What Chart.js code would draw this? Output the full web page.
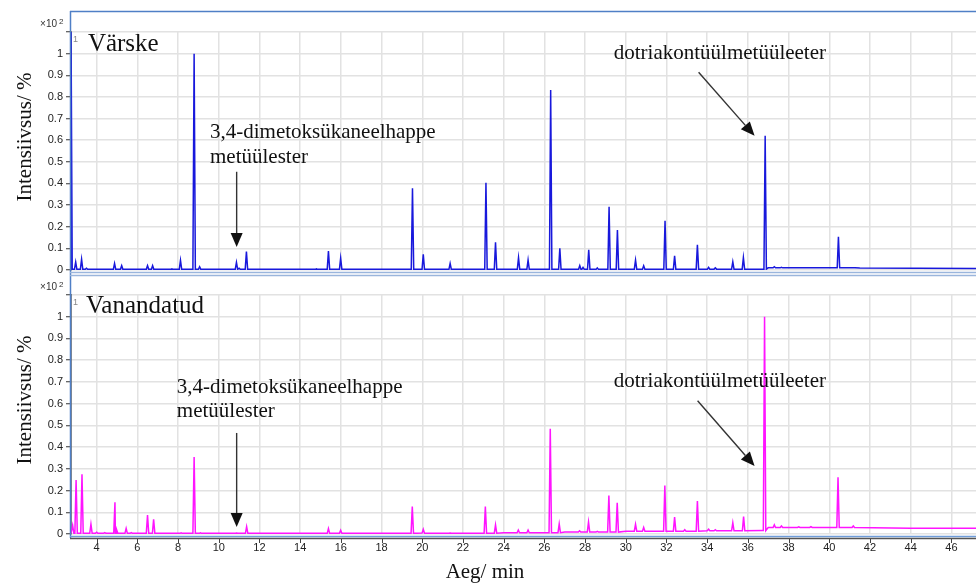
<!DOCTYPE html>
<html>
<head>
<meta charset="utf-8">
<script src="https://cdn.jsdelivr.net/npm/chart.js@4.4.1/dist/chart.umd.min.js"></script>
<style>
  html, body { margin: 0; padding: 0; background: #fff; }
  #wrap { position: relative; width: 976px; height: 584px; overflow: hidden; }
  #wrap canvas { position: absolute; left: 0; }
</style>
</head>
<body>
<div id="wrap">
  <canvas id="fresh" width="976" height="280" style="top:0"></canvas>
  <canvas id="aged" width="976" height="304" style="top:280px"></canvas>
</div>
<script>
// retention time window (min) and intensity axis (x10^2 %)
const xMin = 2.74, xMax = 47.21;
const yMax = 1.1;

// Värske
const freshPeakTimes   = [2.74, 2.97, 3.26, 3.50, 4.88, 5.23, 6.50, 6.75, 7.70, 8.12,
                          8.79, 9.06, 10.87, 11.00, 11.36, 14.80, 15.39, 15.99, 19.52, 20.05,
                          21.37, 23.13, 23.60, 24.73, 25.20, 26.31, 26.76, 27.74, 27.90, 28.18,
                          28.60, 29.18, 29.59, 30.48, 30.88, 31.93, 32.40, 33.52, 34.07, 34.40,
                          35.26, 35.78, 36.85, 37.30, 37.65, 38.50, 40.45, 41.20];
const freshPeakHeights = [1.15, 0.037, 0.05, 0.008, 0.03, 0.02, 0.02, 0.02, 0.005, 0.045,
                          1.0, 0.015, 0.035, 0.008, 0.085, 0.005, 0.088, 0.055, 0.378, 0.073,
                          0.03, 0.403, 0.128, 0.057, 0.046, 0.832, 0.10, 0.02, 0.012, 0.093,
                          0.01, 0.292, 0.185, 0.046, 0.02, 0.227, 0.066, 0.116, 0.012, 0.01,
                          0.038, 0.057, 0.62, 0.015, 0.012, 0.01, 0.153, 0.01];
const freshBaseTimes   = [2.74, 30, 36.7, 37.0, 41.5, 47.3];
const freshBaseLevels  = [0.003, 0.004, 0.004, 0.01, 0.009, 0.007];

// Vanandatud
const agedPeakTimes    = [2.82, 2.99, 3.28, 3.72, 4.00, 4.40, 4.90, 4.98, 5.45, 5.70,
                          6.50, 6.80, 8.15, 8.79, 9.10, 10.88, 11.37, 15.39, 15.99, 19.51,
                          20.05, 21.37, 23.10, 23.60, 24.72, 25.20, 26.29, 26.73, 27.73, 28.17,
                          28.60, 29.17, 29.58, 30.48, 30.88, 31.92, 32.40, 32.90, 33.52, 34.07,
                          34.40, 35.26, 35.79, 36.82, 37.30, 37.65, 38.50, 39.10, 40.43, 41.18];
const agedPeakHeights  = [0.04, 0.249, 0.275, 0.045, 0.008, 0.006, 0.146, 0.02, 0.026, 0.006,
                          0.087, 0.068, 0.005, 0.354, 0.005, 0.004, 0.034, 0.025, 0.017, 0.126,
                          0.022, 0.005, 0.126, 0.042, 0.018, 0.018, 0.484, 0.046, 0.015, 0.055,
                          0.012, 0.177, 0.144, 0.045, 0.03, 0.223, 0.078, 0.02, 0.152, 0.022,
                          0.02, 0.052, 0.08, 1.0, 0.042, 0.037, 0.033, 0.034, 0.261, 0.037];
const agedBaseTimes    = [2.74, 12, 20, 24, 27, 30, 34, 36.7, 37.0, 40, 44, 47.3];
const agedBaseLevels   = [0.003, 0.003, 0.004, 0.006, 0.009, 0.013, 0.015, 0.016, 0.03, 0.03, 0.027, 0.026];

const SERIF = '"Liberation Serif", "Times New Roman", serif';
const SANS = '"Liberation Sans", Arial, sans-serif';
const FRAME_BLUE = '#4f7fc6';

// each peak becomes a narrow spike sitting on the baseline knot before it
function buildTrace(peakT, peakH, baseT, baseL) {
  const hw = 0.06;
  const pts = baseT.map((t, i) => ({ x: t, y: baseL[i] }));
  peakT.forEach((t, i) => {
    let b = baseL[0];
    baseT.forEach((bt, j) => { if (bt <= t) b = baseL[j]; });
    pts.push({ x: t - hw, y: b }, { x: t, y: peakH[i] }, { x: t + hw, y: b });
  });
  return pts.sort((a, b) => a.x - b.x);
}

function line(ctx, x0, y0, x1, y1, color, w) {
  ctx.strokeStyle = color;
  ctx.lineWidth = w;
  ctx.beginPath();
  ctx.moveTo(x0, y0);
  ctx.lineTo(x1, y1);
  ctx.stroke();
}

function arrow(ctx, x0, y0, x1, y1) {
  const ang = Math.atan2(y1 - y0, x1 - x0);
  const len = 14, half = 6;
  const c = Math.cos(ang), s = Math.sin(ang);
  line(ctx, x0, y0, x1 - c * len, y1 - s * len, '#333', 1.4);
  ctx.fillStyle = '#111';
  ctx.beginPath();
  ctx.moveTo(x1, y1);
  ctx.lineTo(x1 - c * len - s * half, y1 - s * len + c * half);
  ctx.lineTo(x1 - c * len + s * half, y1 - s * len - c * half);
  ctx.closePath();
  ctx.fill();
}

// frame, titles and labelled arrows of one panel
function panelDecor(p) {
  return {
    id: 'panelDecor',
    afterDraw(chart) {
      const { ctx, chartArea: a, scales: { x, y } } = chart;
      const px = t => x.getPixelForValue(t);
      const py = v => y.getPixelForValue(v);
      ctx.save();
      p.frame(ctx, a, x);

      ctx.fillStyle = '#333';
      ctx.font = '10px ' + SANS;
      ctx.textAlign = 'right';
      ctx.textBaseline = 'alphabetic';
      ctx.fillText('\u00d710', 57, a.top - 5);
      ctx.font = '8px ' + SANS;
      ctx.textAlign = 'left';
      ctx.fillText('2', 59, a.top - 8);
      ctx.fillStyle = '#888';
      ctx.font = '9px ' + SANS;
      ctx.fillText('1', a.left + 2, a.top + 10);

      ctx.fillStyle = '#111';
      ctx.font = '21px ' + SERIF;
      ctx.save();
      ctx.translate(31, a.top + 105);
      ctx.rotate(-Math.PI / 2);
      ctx.textAlign = 'center';
      ctx.fillText('Intensiivsus/ %', 0, 0);
      ctx.restore();

      ctx.font = '25px ' + SERIF;
      ctx.fillText(p.name, px(p.nameAt[0]), py(p.nameAt[1]));

      ctx.font = '21px ' + SERIF;
      p.notes.forEach(n => ctx.fillText(n.text, px(n.at[0]), py(n.at[1])));
      p.arrows.forEach(r => arrow(ctx, px(r[0]), py(r[1]), px(r[2]), py(r[3])));
      if (p.after) p.after(ctx, a, x);
      ctx.restore();
    }
  };
}

function makeChart(id, data, color, showX, padTop, xHeight, decor) {
  return new Chart(document.getElementById(id), {
    type: 'line',
    data: {
      datasets: [{
        data,
        borderColor: color,
        borderWidth: 1.5,
        pointRadius: 0,
        tension: 0,
        fill: false
      }]
    },
    options: {
      responsive: false,
      animation: false,
      layout: { padding: { top: padTop, left: 0, right: 0, bottom: 0 } },
      plugins: { legend: { display: false }, tooltip: { enabled: false } },
      scales: {
        x: {
          type: 'linear',
          min: xMin,
          max: xMax,
          grid: { color: '#e2e2e2', lineWidth: 1.5, drawTicks: false },
          border: { display: false },
          ticks: {
            display: showX,
            stepSize: 2,
            includeBounds: false,
            maxRotation: 0,
            autoSkip: false,
            padding: 7,
            color: '#222',
            font: { family: SANS, size: 11 }
          },
          afterFit: s => { s.height = xHeight; }
        },
        y: {
          min: 0,
          max: yMax,
          grid: { color: '#e2e2e2', lineWidth: 1.5, tickColor: '#333', tickLength: 5, tickWidth: 1 },
          border: { color: '#111', width: 1.5 },
          ticks: {
            stepSize: 0.1,
            padding: 3,
            color: '#222',
            font: { family: SANS, size: 11 },
            callback: v => v > 1.05 ? '' : String(Math.round(v * 10) / 10)
          },
          afterFit: s => { s.width = 71; }
        }
      }
    },
    plugins: [panelDecor(decor)]
  });
}

makeChart('fresh',
  buildTrace(freshPeakTimes, freshPeakHeights, freshBaseTimes, freshBaseLevels),
  '#1818dc', false, 32, 10, {
    name: 'V\u00e4rske',
    nameAt: [3.57, 1.014],
    notes: [
      { text: '3,4-dimetoks\u00fckaneelhappe', at: [9.57, 0.611] },
      { text: 'met\u00fc\u00fclester', at: [9.57, 0.495] },
      { text: 'dotriakont\u00fc\u00fclmet\u00fc\u00fcleeter', at: [29.41, 0.977] }
    ],
    arrows: [[10.88, 0.454, 10.88, 0.106], [33.58, 0.914, 36.33, 0.62]],
    frame(ctx, a) {
      line(ctx, a.left - 1, a.top - 20.5, 976, a.top - 20.5, FRAME_BLUE, 1.5);
      line(ctx, a.left - 0.5, a.top - 21, a.left - 0.5, 280, FRAME_BLUE, 1.5);
      line(ctx, a.left - 1, a.bottom + 2.5, 976, a.bottom + 2.5, '#9ab5dc', 1.5);
      line(ctx, a.left - 1, a.bottom + 5.5, 976, a.bottom + 5.5, '#9ab5dc', 1.5);
    }
  });

makeChart('aged',
  buildTrace(agedPeakTimes, agedPeakHeights, agedBaseTimes, agedBaseLevels),
  '#ff14ff', true, 15, 50, {
    name: 'Vanandatud',
    nameAt: [3.48, 1.018],
    notes: [
      { text: '3,4-dimetoks\u00fckaneelhappe', at: [7.94, 0.65] },
      { text: 'met\u00fc\u00fclester', at: [7.94, 0.539] },
      { text: 'dotriakont\u00fc\u00fclmet\u00fc\u00fcleeter', at: [29.41, 0.677] }
    ],
    arrows: [[10.88, 0.465, 10.88, 0.032], [33.53, 0.613, 36.33, 0.313]],
    frame(ctx, a, x) {
      line(ctx, a.left - 0.5, 0, a.left - 0.5, a.bottom + 4, FRAME_BLUE, 1.5);
      line(ctx, a.left - 1, a.bottom + 2.5, 976, a.bottom + 2.5, '#6e9bd8', 1.5);
      line(ctx, a.left - 1, a.bottom + 4.5, 976, a.bottom + 4.5, '#555', 1.5);
      x.ticks.forEach(t => {
        const tx = Math.round(x.getPixelForValue(t.value)) + 0.5;
        line(ctx, tx, a.bottom + 5, tx, a.bottom + 9, '#444', 1);
      });
    },
    after(ctx) {
      ctx.fillStyle = '#111';
      ctx.font = '21px ' + SERIF;
      ctx.textAlign = 'center';
      ctx.fillText('Aeg/ min', 485, 298);
    }
  });
</script>
</body>
</html>
